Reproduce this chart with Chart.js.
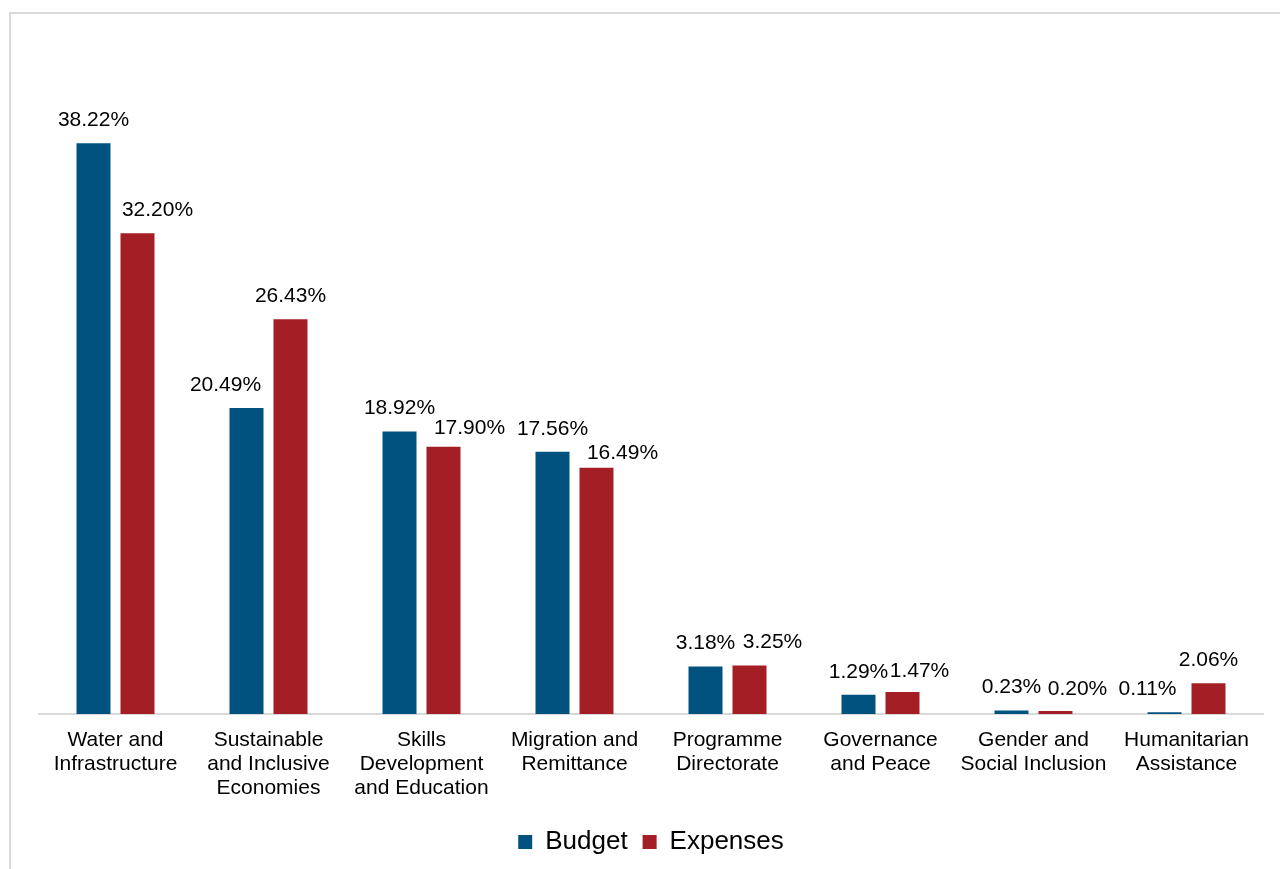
<!DOCTYPE html>
<html>
<head>
<meta charset="utf-8">
<script src="https://cdn.jsdelivr.net/npm/chart.js@4/dist/chart.umd.min.js"></script>
<style>
  html, body { margin: 0; padding: 0; background: #ffffff; }
  #wrap { position: relative; width: 1280px; height: 869px; overflow: hidden; }
  #frame { position: absolute; left: 9px; top: 12px; width: 1300px; height: 900px;
           border-top: 2px solid #d9d9d9; border-left: 2px solid #d9d9d9; box-sizing: border-box; }
  #c { position: absolute; left: 0; top: 0; }
</style>
</head>
<body>
<div id="wrap">
  <div id="frame"></div>
  <canvas id="c" width="1280" height="869"></canvas>
</div>
<script>
// ---- Data ----
const categories = [
  ["Water and", "Infrastructure"],
  ["Sustainable", "and Inclusive", "Economies"],
  ["Skills", "Development", "and Education"],
  ["Migration and", "Remittance"],
  ["Programme", "Directorate"],
  ["Governance", "and Peace"],
  ["Gender and", "Social Inclusion"],
  ["Humanitarian", "Assistance"]
];
const budget   = [38.22, 20.49, 18.92, 17.56, 3.18, 1.29, 0.23, 0.11];
const expenses = [32.20, 26.43, 17.90, 16.49, 3.25, 1.47, 0.20, 2.06];
const seriesNames = ["Budget", "Expenses"];

// ---- Styling ----
const BLUE = "#01527f";
const RED = "#a41e25";
const FONT = "'Liberation Sans', Arial, Helvetica, sans-serif";
// manual label nudges (px) as in the original chart's label placement
const labelNudge = [
  { dx: [0, -21, 0, 0, 0, 0, 0, -17], dy: [0, 0, 0, 0, 0, 0, 0, 0] },
  { dx: [20, 0, 26, 26, 23, 17, 22, 0], dy: [0, 0, 5, 8, 0, 2, 1, 0] }
];

const valueLabels = {
  id: "valueLabels",
  afterDatasetsDraw(chart) {
    const ctx = chart.ctx;
    ctx.save();
    ctx.font = "21px " + FONT;
    ctx.fillStyle = "#000000";
    ctx.textAlign = "center";
    ctx.textBaseline = "middle";
    chart.data.datasets.forEach((ds, di) => {
      const meta = chart.getDatasetMeta(di);
      meta.data.forEach((el, i) => {
        const v = ds.data[i];
        const x = el.x + labelNudge[di].dx[i];
        const y = el.y - 23 + labelNudge[di].dy[i];
        ctx.fillText(v.toFixed(2) + "%", x, y);
      });
    });
    ctx.restore();
  }
};

new Chart(document.getElementById("c"), {
  type: "bar",
  data: {
    labels: categories,
    datasets: [
      { label: seriesNames[0], data: budget, backgroundColor: BLUE, borderWidth: 0,
        categoryPercentage: 0.575, barPercentage: 0.773 },
      { label: seriesNames[1], data: expenses, backgroundColor: RED, borderWidth: 0,
        categoryPercentage: 0.575, barPercentage: 0.773 }
    ]
  },
  options: {
    responsive: false,
    animation: false,
    devicePixelRatio: 1,
    layout: { padding: { left: 39, right: 17, top: 42, bottom: 4 } },
    scales: {
      x: {
        grid: { display: false, drawTicks: false },
        border: { display: true, color: "#d9d9d9", width: 2 },
        ticks: {
          color: "#000000",
          padding: 14,
          maxRotation: 0,
          autoSkip: false,
          font: { family: FONT, size: 21, lineHeight: 24 / 21 }
        }
      },
      y: {
        display: false,
        min: 0,
        max: 45
      }
    },
    plugins: {
      legend: {
        position: "bottom",
        labels: {
          color: "#000000",
          boxWidth: 14,
          boxHeight: 14,
          padding: 15,
          font: { family: FONT, size: 26 }
        }
      },
      tooltip: { enabled: false }
    }
  },
  plugins: [valueLabels]
});
</script>
</body>
</html>
